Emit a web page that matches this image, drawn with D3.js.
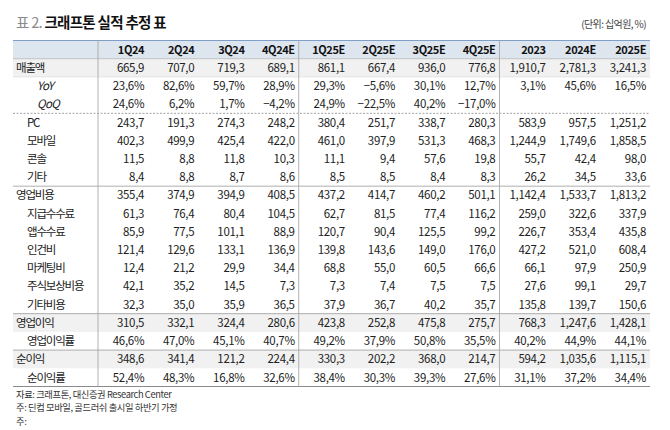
<!DOCTYPE html>
<html><head><meta charset="utf-8">
<script src="https://cdn.jsdelivr.net/npm/d3@7"></script>
<style>
html,body{margin:0;padding:0;background:#fff;}
svg text{font-family:"Noto Sans CJK KR","Noto Sans",sans-serif;}
</style></head>
<body>
<svg id="chart" width="670" height="430"></svg>
<script>
const title = "표 2.";
const titleBold = "크래프톤 실적 추정 표";
const unitText = "(단위: 십억원, %)";
const columns = ["1Q24","2Q24","3Q24","4Q24E","1Q25E","2Q25E","3Q25E","4Q25E","2023","2024E","2025E"];
const rowLabels = ["매출액","YoY","QoQ","PC","모바일","콘솔","기타","영업비용","지급수수료","앱수수료","인건비","마케팅비","주식보상비용","기타비용","영업이익","영업이익률","순이익","순이익률"];
const rowLevel  = [0,2,2,1,1,1,1,0,1,1,1,1,1,1,0,1,0,1];
const rowIsPct  = [false,true,true,false,false,false,false,false,false,false,false,false,false,false,false,true,false,true];
const rowShaded = [true,false,false,false,false,false,false,false,false,false,false,false,false,false,true,false,true,false];
const revenue   = [665.9,707.0,719.3,689.1,861.1,667.4,936.0,776.8,1910.7,2781.3,3241.3];
const revYoY    = [23.6,82.6,59.7,28.9,29.3,-5.6,30.1,12.7,3.1,45.6,16.5];
const revQoQ    = [24.6,6.2,1.7,-4.2,24.9,-22.5,40.2,-17.0,null,null,null];
const pc        = [243.7,191.3,274.3,248.2,380.4,251.7,338.7,280.3,583.9,957.5,1251.2];
const mobile    = [402.3,499.9,425.4,422.0,461.0,397.9,531.3,468.3,1244.9,1749.6,1858.5];
const consoleV  = [11.5,8.8,11.8,10.3,11.1,9.4,57.6,19.8,55.7,42.4,98.0];
const etc       = [8.4,8.8,8.7,8.6,8.5,8.5,8.4,8.3,26.2,34.5,33.6];
const opex      = [355.4,374.9,394.9,408.5,437.2,414.7,460.2,501.1,1142.4,1533.7,1813.2];
const fees      = [61.3,76.4,80.4,104.5,62.7,81.5,77.4,116.2,259.0,322.6,337.9];
const appFees   = [85.9,77.5,101.1,88.9,120.7,90.4,125.5,99.2,226.7,353.4,435.8];
const labor     = [121.4,129.6,133.1,136.9,139.8,143.6,149.0,176.0,427.2,521.0,608.4];
const marketing = [12.4,21.2,29.9,34.4,68.8,55.0,60.5,66.6,66.1,97.9,250.9];
const stockComp = [42.1,35.2,14.5,7.3,7.3,7.4,7.5,7.5,27.6,99.1,29.7];
const otherCost = [32.3,35.0,35.9,36.5,37.9,36.7,40.2,35.7,135.8,139.7,150.6];
const opProfit  = [310.5,332.1,324.4,280.6,423.8,252.8,475.8,275.7,768.3,1247.6,1428.1];
const opMargin  = [46.6,47.0,45.1,40.7,49.2,37.9,50.8,35.5,40.2,44.9,44.1];
const netProfit = [348.6,341.4,121.2,224.4,330.3,202.2,368.0,214.7,594.2,1035.6,1115.1];
const netMargin = [52.4,48.3,16.8,32.6,38.4,30.3,39.3,27.6,31.1,37.2,34.4];
const notes = ["자료: 크래프톤, 대신증권 Research Center","주: 딘컴 모바일, 골드러쉬 출시일 하반기 가정","주:"];

const rowValues = [revenue,revYoY,revQoQ,pc,mobile,consoleV,etc,opex,fees,appFees,labor,marketing,stockComp,otherCost,opProfit,opMargin,netProfit,netMargin];

const loc = d3.formatLocale({decimal:",",thousands:",",grouping:[3],currency:["",""],minus:"\u2212"});
const fNum = loc.format(",.1f");
const fPct = v => loc.format(".1f")(v) + "%";

const svg = d3.select("#chart");
const L = 13, R = 650, labelW = 98;
const x = d3.scaleBand().domain(columns).range([labelW, R]);
const allRows = ["__header"].concat(rowLabels);
const y = d3.scaleBand().domain(allRows).range([40.5, 386.5]);
const bh = y.bandwidth();

// backgrounds
svg.append("rect").attr("x",L).attr("y",y("__header")).attr("width",R-L).attr("height",bh).attr("fill","#dde5ef");
svg.selectAll("rect.band").data(rowLabels.filter((d,i)=>rowShaded[i])).join("rect")
  .attr("class","band").attr("x",L).attr("y",d=>y(d)).attr("width",R-L).attr("height",bh).attr("fill","#f1f1f1");

// horizontal lines
function hline(yy, color, w, dash){
  svg.append("line").attr("x1",L).attr("x2",R).attr("y1",yy).attr("y2",yy)
    .attr("stroke",color).attr("stroke-width",w).attr("stroke-dasharray",dash||null);
}
hline(y("__header"), "#7f9fc8", 1.2);
hline(y("매출액"), "#b8b8b8", 0.8);
hline(y("YoY"), "#d8d8d8", 0.6);
hline(y("PC"), "#8a8a8a", 0.8, "2,1.5");
hline(y("영업비용"), "#9a9a9a", 0.8);
hline(y("영업이익"), "#9a9a9a", 0.8);
hline(y("순이익"), "#9a9a9a", 0.8);
hline(y("순이익률")+bh, "#8a8a8a", 1);

// vertical lines
[labelW, x("1Q25E"), x("2023")].forEach(xx=>{
  svg.append("line").attr("x1",xx).attr("x2",xx).attr("y1",y("__header")).attr("y2",y("순이익률")+bh)
    .attr("stroke","#a8a8a8").attr("stroke-width",0.9);
});

// title
const t = svg.append("text").attr("x",16).attr("y",28).attr("font-size",14.5).attr("letter-spacing","-0.7px");
t.append("tspan").attr("fill","#8a8a8a").text(title + " ");
t.append("tspan").attr("fill","#111").attr("font-weight","bold").text(titleBold);
svg.append("text").attr("x",646).attr("y",28).attr("text-anchor","end").attr("font-size",10)
  .attr("letter-spacing","-0.6px").attr("fill","#444").text(unitText);

// header
svg.selectAll("text.hdr").data(columns).join("text").attr("class","hdr")
  .attr("x",d=>x(d)+x.bandwidth()-4).attr("y",y("__header")+bh/2).attr("dy","0.36em")
  .attr("text-anchor","end").attr("font-size",11).attr("font-weight","bold").attr("letter-spacing","-0.4px")
  .attr("fill","#111").text(d=>d);

// row labels
svg.selectAll("text.lbl").data(rowLabels).join("text").attr("class","lbl")
  .attr("x",(d,i)=>rowLevel[i]===0?16:(rowLevel[i]===1?27:37))
  .attr("y",d=>y(d)+bh/2).attr("dy","0.36em")
  .attr("font-size",11.5)
  .attr("font-style",(d,i)=>rowLevel[i]===2?"italic":null)
  .attr("font-family",(d,i)=>rowLevel[i]===2?"'Liberation Sans',sans-serif":null)
  .attr("letter-spacing",(d,i)=>rowLevel[i]===2?"-0.6px":"-1.2px")
  .attr("fill","#222").text(d=>d);

// cells
const cells = [];
rowLabels.forEach((r,i)=>{
  rowValues[i].forEach((v,j)=>{ if(v!==null) cells.push({row:r, col:columns[j], v, pct:rowIsPct[i]}); });
});
svg.selectAll("text.cell").data(cells).join("text").attr("class","cell")
  .attr("x",d=>x(d.col)+x.bandwidth()-4).attr("y",d=>y(d.row)+bh/2).attr("dy","0.36em")
  .attr("text-anchor","end").attr("font-size",11.5).attr("letter-spacing","-0.3px")
  .attr("fill","#222").text(d=>d.pct?fPct(d.v):fNum(d.v));

// notes
svg.selectAll("text.note").data(notes).join("text").attr("class","note")
  .attr("x",16).attr("y",(d,i)=>397.5+i*13.5).attr("font-size",9.3).attr("letter-spacing","-0.4px")
  .attr("fill","#333").text(d=>d);
</script>
</body></html>
